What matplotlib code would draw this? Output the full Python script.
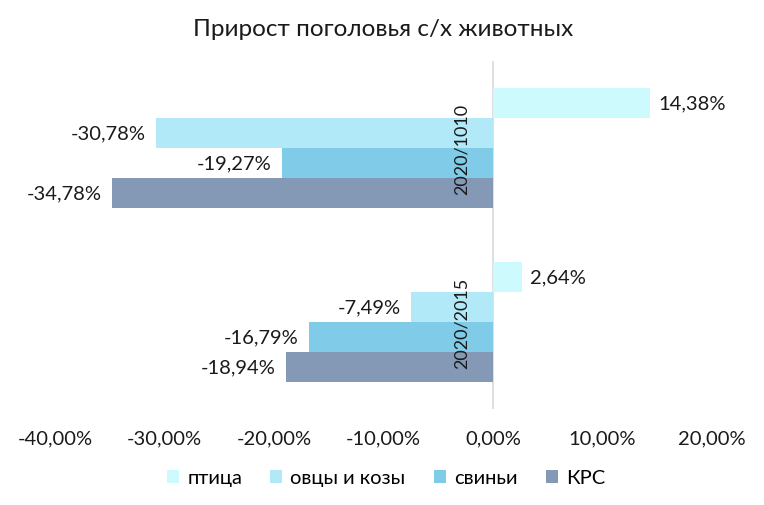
import matplotlib
matplotlib.use("Agg")
import matplotlib.pyplot as plt
from matplotlib.ticker import FuncFormatter

plt.rcParams['font.family'] = ['Lato', 'DejaVu Sans']

categories = ['2020/2015', '2020/1010']  # bottom to top
series = ['птица', 'овцы и козы', 'свиньи', 'КРС']
values = {
    'птица':       [2.64, 14.38],
    'овцы и козы': [-7.49, -30.78],
    'свиньи':      [-16.79, -19.27],
    'КРС':         [-18.94, -34.78],
}
colors = ['#CCFAFD', '#B2E9F9', '#7FCBE8', '#8399B5']
xticks = [-40, -30, -20, -10, 0, 10, 20]

FS = 14.5
TXT = '#1a1a1a'

fig = plt.figure(figsize=(7.64, 5.06), dpi=100)
ax = fig.add_axes([55/764, 1-410/506, (712-55)/764, (410-62)/506])

h = 30/174
offsets = [1.5*h, 0.5*h, -0.5*h, -1.5*h]
centers = [0.5, 1.5]

for s, c, off in zip(series, colors, offsets):
    ys = [cc + off for cc in centers]
    ax.barh(ys, values[s], height=h, color=c, label=s, zorder=2)
    for y, v in zip(ys, values[s]):
        txt = f"{v:.2f}%".replace('.', ',')
        if v >= 0:
            ax.annotate(txt, (v, y), xytext=(6, 0), textcoords='offset points',
                        ha='left', va='center', fontsize=FS, color=TXT)
        else:
            ax.annotate(txt, (v, y), xytext=(-7.5, 0), textcoords='offset points',
                        ha='right', va='center', fontsize=FS, color=TXT)

for cat, cc in zip(categories, centers):
    ax.annotate(cat, (0, cc), xytext=(-17, 0), textcoords='offset points',
                rotation=90, ha='right', va='center', fontsize=13, color=TXT,
                zorder=5)

ax.set_xlim(-40, 20)
ax.set_ylim(0, 2)
ax.set_xticks(xticks)
ax.xaxis.set_major_formatter(FuncFormatter(lambda v, p: f"{v:.2f}%".replace('.', ',')))
ax.tick_params(axis='x', length=0, labelsize=FS, pad=15, labelcolor=TXT)
ax.set_yticks([])
for sp in ax.spines.values():
    sp.set_visible(False)
ax.axvline(0, color='#D9D9D9', lw=1.2, zorder=1)

fig.text(383/764, 1-30/506, 'Прирост поголовья с/х животных', ha='center', va='center',
         fontsize=17.5, color=TXT)

fig.legend(loc='center', bbox_to_anchor=(386/764, 1-479/506), ncol=4, frameon=False,
           fontsize=FS, handlelength=0.6, handleheight=0.6, handletextpad=0.4,
           columnspacing=1.4)

fig.savefig('out.png', dpi=100, facecolor='white')
